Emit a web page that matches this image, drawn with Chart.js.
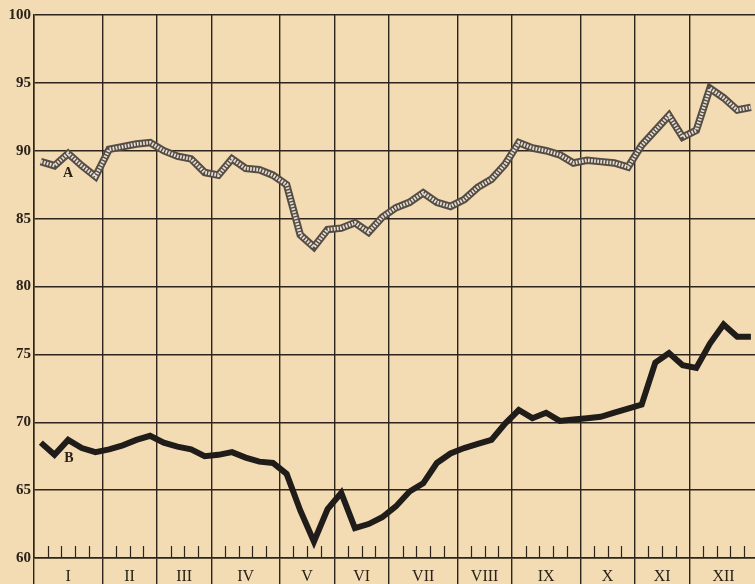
<!DOCTYPE html>
<html>
<head>
<meta charset="utf-8">
<script src="https://cdn.jsdelivr.net/npm/chart.js@4/dist/chart.umd.min.js"></script>
<style>
html,body{margin:0;padding:0;background:#f2dcb3;}
canvas{display:block;}
</style>
</head>
<body>
<canvas id="c" width="755" height="584"></canvas>
<script>
// ---- data (weekly values, 53 weeks) ----
const months = ['I','II','III','IV','V','VI','VII','VIII','IX','X','XI','XII'];
const weeksPerMonth = [5,4,4,5,4,4,5,4,5,4,4,5];
const seriesNames = ['A','B'];
const seriesA = [89.2,88.9,89.8,88.9,88.1,90.1,90.3,90.5,90.6,90.0,89.6,89.4,88.4,88.2,89.4,88.7,88.6,88.2,87.5,83.8,82.9,84.2,84.3,84.7,84.0,85.1,85.8,86.2,86.9,86.2,85.9,86.4,87.3,87.9,89.0,90.6,90.2,90.0,89.7,89.1,89.3,89.2,89.1,88.8,90.4,91.5,92.6,91.0,91.5,94.6,93.9,93.0,93.2];
const seriesB = [68.5,67.6,68.7,68.1,67.8,68.0,68.3,68.7,69.0,68.5,68.2,68.0,67.5,67.6,67.8,67.4,67.1,67.0,66.2,63.5,61.2,63.6,64.8,62.2,62.5,63.0,63.8,64.9,65.5,67.0,67.7,68.1,68.4,68.7,69.9,70.9,70.3,70.7,70.1,70.2,70.3,70.4,70.7,71.0,71.3,74.4,75.1,74.2,74.0,75.8,77.2,76.3,76.3];
const yTicks = [60,65,70,75,80,85,90,95,100];

// ---- derived ----
const boundaries = [0];
weeksPerMonth.forEach(w => boundaries.push(boundaries[boundaries.length-1] + w));
const mids = months.map((m,i) => (boundaries[i] + boundaries[i+1]) / 2);
const toPts = arr => arr.map((v,i) => ({x: i + 0.5, y: v}));

const gridColor = '#2d251b';
const inkColor = '#2a2218';

const paper = {
  id: 'paper',
  beforeDraw(chart) {
    const c = chart.ctx;
    c.save();
    c.fillStyle = '#f3dcb4';
    c.fillRect(0, 0, chart.width, chart.height);
    c.restore();
  }
};

const weekTicks = {
  id: 'weekTicks',
  beforeDatasetsDraw(chart) {
    const x = chart.scales.x, y = chart.scales.y, c = chart.ctx;
    const base = y.getPixelForValue(60);
    c.save();
    c.strokeStyle = gridColor;
    c.lineWidth = 1.2;
    for (let w = 1; w < boundaries[boundaries.length-1]; w++) {
      if (boundaries.includes(w)) continue;
      const px = Math.round(x.getPixelForValue(w)) + 0.5;
      c.beginPath();
      c.moveTo(px, base);
      c.lineTo(px, base - 12);
      c.stroke();
    }
    c.restore();
  },
  afterDatasetsDraw(chart) {
    const x = chart.scales.x, y = chart.scales.y, c = chart.ctx;
    c.save();
    c.fillStyle = inkColor;
    c.font = 'bold 14px "Liberation Serif", "DejaVu Serif", serif';
    c.textAlign = 'center';
    c.textBaseline = 'middle';
    c.fillText(seriesNames[0], x.getPixelForValue(2.5), y.getPixelForValue(88.3));
    c.fillText(seriesNames[1], x.getPixelForValue(2.55), y.getPixelForValue(67.35));
    c.restore();
  }
};

new Chart(document.getElementById('c'), {
  type: 'line',
  data: {
    datasets: [
      { label: 'A-rungs', data: toPts(seriesA), borderColor: '#e6dfd2', borderWidth: 3.6, borderDash: [1.7, 1.4], pointRadius: 0, tension: 0, order: 0 },
      { label: 'A', data: toPts(seriesA), borderColor: '#554d45', borderWidth: 7.5, pointRadius: 0, tension: 0, order: 1 },
      { label: 'B', data: toPts(seriesB), borderColor: '#1f1c19', borderWidth: 6, pointRadius: 0, tension: 0, borderJoinStyle: 'miter', order: 2 }
    ]
  },
  options: {
    responsive: false,
    animation: false,
    events: [],
    layout: { padding: { top: 15, right: 0, left: 0, bottom: 0 } },
    plugins: { legend: { display: false }, tooltip: { enabled: false } },
    scales: {
      x: {
        type: 'linear',
        min: 0,
        max: 52.8,
        afterBuildTicks(scale) {
          const vals = boundaries.slice(0, -1).concat(mids).sort((a,b)=>a-b);
          scale.ticks = vals.map(v => ({ value: v }));
        },
        afterFit(scale) { scale.height = 26; },
        border: { display: true, color: gridColor, width: 1.5 },
        grid: {
          color: ctx => (ctx.tick && boundaries.includes(ctx.tick.value)) ? gridColor : 'rgba(0,0,0,0)',
          lineWidth: 1.4,
          drawTicks: true,
          tickLength: 26,
          tickColor: ctx => (ctx.tick && boundaries.includes(ctx.tick.value)) ? gridColor : 'rgba(0,0,0,0)'
        },
        ticks: {
          autoSkip: false,
          maxRotation: 0,
          padding: -17,
          color: inkColor,
          font: { family: '"Liberation Serif", "DejaVu Serif", serif', size: 16 },
          callback: (v) => { const i = mids.indexOf(v); return i >= 0 ? months[i] : ''; }
        }
      },
      y: {
        type: 'linear',
        min: 60,
        max: 100,
        afterBuildTicks(scale) { scale.ticks = yTicks.map(v => ({ value: v })); },
        afterFit(scale) { scale.width = 34; },
        border: { display: true, color: gridColor, width: 1.5 },
        grid: { color: gridColor, lineWidth: 1.4, drawTicks: false },
        ticks: {
          padding: 3,
          color: inkColor,
          font: { family: '"Liberation Serif", "DejaVu Serif", serif', size: 15, weight: 'bold' }
        }
      }
    }
  },
  plugins: [paper, weekTicks]
});
</script>
</body>
</html>
